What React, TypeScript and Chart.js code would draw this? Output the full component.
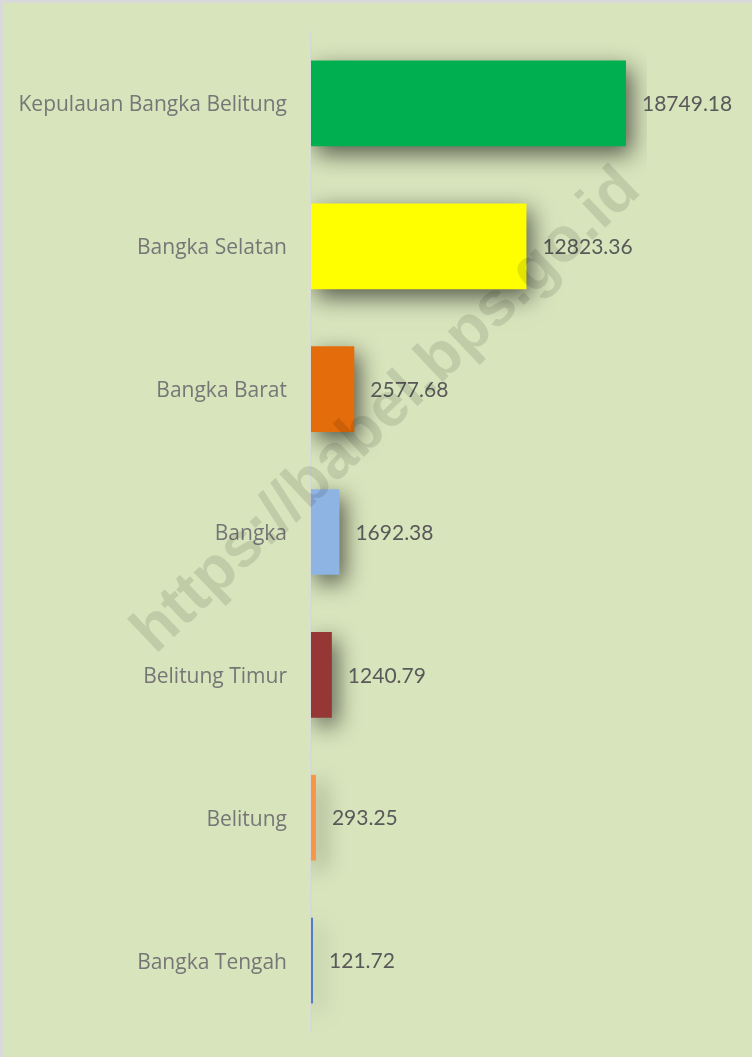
import React, { useEffect, useRef } from "react";
import { Chart, registerables } from "chart.js";

Chart.register(...registerables);

const categories = [
  "Kepulauan Bangka Belitung",
  "Bangka Selatan",
  "Bangka Barat",
  "Bangka",
  "Belitung Timur",
  "Belitung",
  "Bangka Tengah",
];
const values = [18749.18, 12823.36, 2577.68, 1692.38, 1240.79, 293.25, 121.72];
const valueLabels = ["18749.18", "12823.36", "2577.68", "1692.38", "1240.79", "293.25", "121.72"];
const barColors = ["#00b050", "#ffff00", "#e46c0a", "#8eb4e3", "#953735", "#f79646", "#4f81bd"];
const watermarkText = "https://babel.bps.go.id";

const W = 749;
const H = 1054;

export default function App() {
  const ref = useRef<HTMLCanvasElement>(null);
  useEffect(() => {
    document.body.style.margin = "0";
    const canvas = ref.current!;
    const shadowPlugin = {
      id: "shadowPlugin",
      beforeDatasetsDraw(chart: any) {
        const ctx = chart.ctx;
        ctx.save();
        ctx.shadowColor = "rgba(0,0,0,0.62)";
        ctx.shadowBlur = 22;
        ctx.shadowOffsetX = 5;
        ctx.shadowOffsetY = 8;
      },
      afterDatasetsDraw(chart: any) {
        chart.ctx.restore();
        const ctx = chart.ctx;
        const meta = chart.getDatasetMeta(0);
        ctx.save();
        ctx.font = "21px Lato";
        ctx.fillStyle = "#595959";
        ctx.textAlign = "left";
        ctx.textBaseline = "middle";
        meta.data.forEach((bar: any, i: number) => {
          ctx.fillText(valueLabels[i], bar.x + 16, bar.y + 1);
        });
        ctx.restore();
      },
    };
    const watermarkPlugin = {
      id: "watermarkPlugin",
      afterDraw(chart: any) {
        const ctx = chart.ctx;
        ctx.save();
        ctx.translate(384, 408);
        ctx.rotate((-43.5 * Math.PI) / 180);
        let size = 60;
        ctx.font = `bold ${size}px "Liberation Sans"`;
        const w = ctx.measureText(watermarkText).width;
        size = (size * 672) / w;
        ctx.font = `bold ${size}px "Liberation Sans"`;
        ctx.fillStyle = "rgba(0,0,0,0.11)";
        ctx.textAlign = "center";
        ctx.textBaseline = "middle";
        ctx.fillText(watermarkText, 0, 0);
        ctx.restore();
      },
    };
    const chart = new Chart(canvas, {
      type: "bar",
      data: {
        labels: categories,
        datasets: [
          {
            data: values,
            backgroundColor: barColors,
            borderWidth: 0,
            categoryPercentage: 0.6,
            barPercentage: 1,
          },
        ],
      },
      options: {
        indexAxis: "y",
        animation: false,
        responsive: false,
        maintainAspectRatio: false,
        layout: { padding: { left: 0, right: 105, top: 29, bottom: 25 } },
        plugins: { legend: { display: false }, tooltip: { enabled: false } },
        scales: {
          x: { display: false, min: 0, max: 20000 },
          y: {
            afterFit(scale: any) {
              scale.width = 308;
              scale.paddingTop = 0;
              scale.paddingBottom = 0;
            },
            grid: { display: false, drawTicks: false },
            border: { display: true, color: "#d9d9d9", width: 2 },
            ticks: {
              color: "#767676",
              font: { family: "'Open Sans'", size: 21 },
              padding: 24,
              labelOffset: 2,
            },
          },
        },
      },
      plugins: [shadowPlugin, watermarkPlugin],
    });
    return () => chart.destroy();
  }, []);
  return (
    <div
      style={{
        width: 752,
        height: 1057,
        boxSizing: "border-box",
        borderTop: "3px solid #d9d9d9",
        borderLeft: "3px solid #d9d9d9",
        background: "#d8e4bc",
      }}
    >
      <canvas ref={ref} width={W} height={H} style={{ display: "block", width: W, height: H }} />
    </div>
  );
}
